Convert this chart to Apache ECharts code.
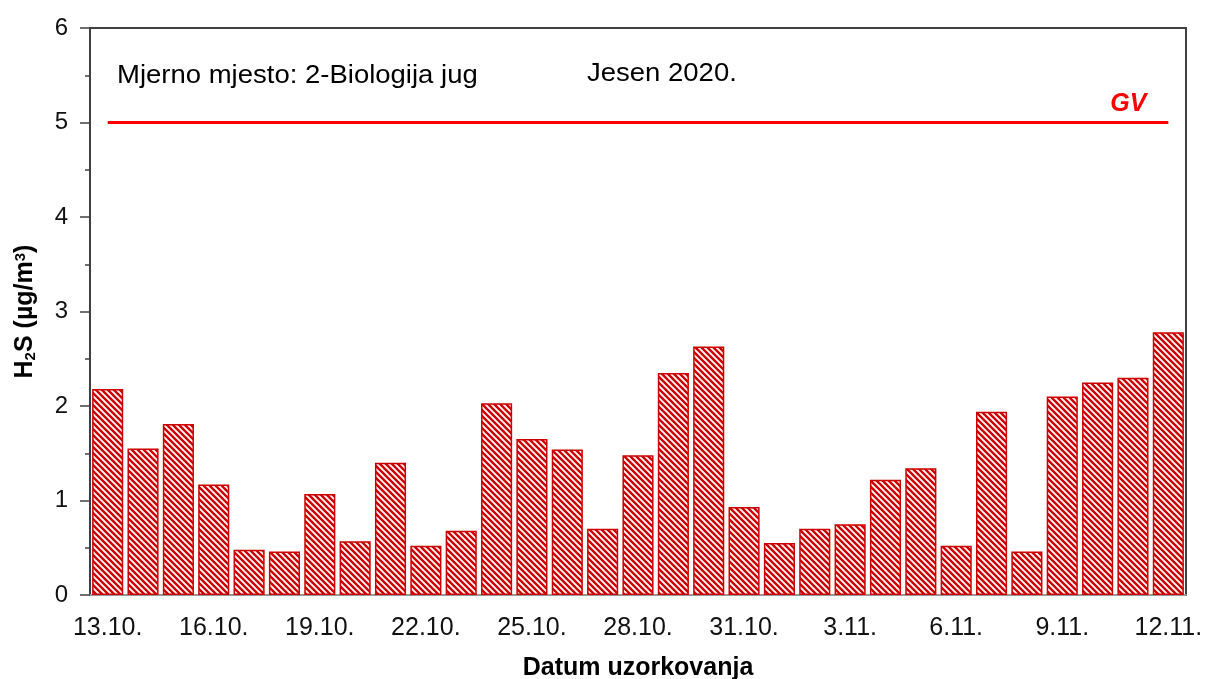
<!DOCTYPE html>
<html>
<head>
<meta charset="utf-8">
<script src="https://cdn.jsdelivr.net/npm/echarts@6/dist/echarts.min.js"></script>
<style>
  html, body { margin: 0; padding: 0; background: #fff; }
  #main { width: 1206px; height: 679px; }
</style>
</head>
<body>
<div id="main"></div>
<script>
// datumi uzorkovanja
const dates = ['13.10.', '14.10.', '15.10.', '16.10.', '17.10.', '18.10.', '19.10.', '20.10.',
  '21.10.', '22.10.', '23.10.', '24.10.', '25.10.', '26.10.', '27.10.', '28.10.', '29.10.',
  '30.10.', '31.10.', '1.11.', '2.11.', '3.11.', '4.11.', '5.11.', '6.11.', '7.11.', '8.11.',
  '9.11.', '10.11.', '11.11.', '12.11.'];
// H2S koncentracije (µg/m3)
const h2sValues = [2.18, 1.55, 1.81, 1.17, 0.48, 0.46, 1.07, 0.57, 1.40, 0.52, 0.68, 2.03,
  1.65, 1.54, 0.70, 1.48, 2.35, 2.63, 0.93, 0.55, 0.70, 0.75, 1.22, 1.34, 0.52, 1.94, 0.46,
  2.10, 2.25, 2.30, 2.78];
// granična vrijednost
const gvValue = 5;
const yTicks = [0, 1, 2, 3, 4, 5, 6];

// šrafura za stupce
function makeHatch() {
  const s = 6;
  const c = document.createElement('canvas');
  c.width = s;
  c.height = s;
  const ctx = c.getContext('2d');
  ctx.fillStyle = '#ffffff';
  ctx.fillRect(0, 0, s, s);
  ctx.strokeStyle = '#d00000';
  ctx.lineWidth = 2.4;
  ctx.beginPath();
  ctx.moveTo(-1, -1); ctx.lineTo(s + 1, s + 1);
  ctx.moveTo(-s - 1, -1); ctx.lineTo(1, s + 1);
  ctx.moveTo(s - 1, -1); ctx.lineTo(2 * s + 1, s + 1);
  ctx.stroke();
  return c;
}

const chart = echarts.init(document.getElementById('main'));
const font = 'Liberation Sans, Arial, sans-serif';

chart.setOption({
  animation: false,
  grid: {
    left: 90, right: 20, top: 28, bottom: 84,
    outerBoundsMode: 'none',
    containLabel: false,
    show: true, borderColor: '#404040', borderWidth: 2
  },
  xAxis: {
    type: 'category',
    data: dates,
    name: 'Datum uzorkovanja',
    nameLocation: 'middle',
    nameGap: 61,
    nameTextStyle: { fontFamily: font, fontSize: 25, fontWeight: 'bold', color: '#000' },
    axisLine: { lineStyle: { color: '#999', width: 2 } },
    axisTick: { alignWithLabel: false, interval: 0, length: 6, lineStyle: { color: '#999', width: 1.5 } },
    axisLabel: { interval: 2, fontFamily: font, fontSize: 25, color: '#111', margin: 21 }
  },
  yAxis: {
    type: 'value',
    min: yTicks[0],
    max: yTicks[yTicks.length - 1],
    interval: 1,
    name: '{b|H}{sub|2}{b|S (µg/m}{sup|3}{b|)}',
    nameLocation: 'middle',
    nameGap: 52,
    nameTextStyle: {
      rich: {
        b: { fontFamily: font, fontSize: 25, fontWeight: 'bold', color: '#000' },
        sub: { fontFamily: font, fontSize: 15, fontWeight: 'bold', color: '#000', verticalAlign: 'bottom', padding: [10, 0, 0, 0] },
        sup: { fontFamily: font, fontSize: 15, fontWeight: 'bold', color: '#000', verticalAlign: 'top', padding: [0, 0, 10, 0] }
      }
    },
    axisLine: { show: true, lineStyle: { color: '#404040', width: 2 } },
    axisTick: { show: true, length: 10, lineStyle: { color: '#404040', width: 1.5 } },
    minorTick: { show: true, splitNumber: 2, length: 5, lineStyle: { color: '#404040', width: 1.5 } },
    splitLine: { show: false },
    axisLabel: { fontFamily: font, fontSize: 24, color: '#111', margin: 22 }
  },
  graphic: [
    {
      type: 'text', left: 117, top: 64, scaleX: 1.1,
      style: { text: 'Mjerno mjesto: 2-Biologija jug', fontFamily: font, fontSize: 25, fill: '#000' }
    },
    {
      type: 'text', left: 587, top: 62, scaleX: 1.1,
      style: { text: 'Jesen 2020.', fontFamily: font, fontSize: 25, fill: '#000' }
    }
  ],
  series: [
    {
      type: 'bar',
      data: h2sValues,
      barCategoryGap: '12%',
      itemStyle: {
        color: { image: makeHatch(), repeat: 'repeat' },
        borderColor: '#cc0000',
        borderWidth: 1.5
      },
      markLine: {
        silent: true,
        symbol: 'none',
        lineStyle: { color: '#ff0000', width: 3, type: 'solid' },
        label: {
          show: true,
          position: 'insideEndTop',
          formatter: 'GV',
          distance: [22, 6],
          fontFamily: font,
          fontSize: 25,
          fontWeight: 'bold',
          fontStyle: 'italic',
          color: '#ff0000'
        },
        data: [[{ coord: [dates[0], gvValue] }, { coord: [dates[dates.length - 1], gvValue] }]]
      }
    }
  ]
});
</script>
</body>
</html>
